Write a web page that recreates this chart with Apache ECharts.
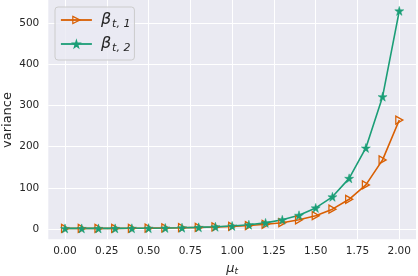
<!DOCTYPE html>
<html><head><meta charset="utf-8">
<script src="https://cdn.jsdelivr.net/npm/echarts@6/dist/echarts.min.js"></script>
<style>html,body{margin:0;padding:0;background:#fff}#c{width:418px;height:276px}</style>
</head><body><div id="c"></div>
<script>
const mu = [0.0,0.1,0.2,0.3,0.4,0.5,0.6,0.7,0.8,0.9,1.0,1.1,1.2,1.3,1.4,1.5,1.6,1.7,1.8,1.9,2.0];
const beta1 = [1.0,1.0,1.1,1.2,1.4,1.7,2.1,2.7,3.5,4.5,6,8,11,15,22,32,48,72,107,168,265];
const beta2 = [1.0,1.0,1.0,1.1,1.3,1.6,2.0,2.7,3.6,5,7,10,14.5,22,33,51,78,123,197,322,531];
const xTicks = [0,0.25,0.5,0.75,1.0,1.25,1.5,1.75,2.0];
const yTicks = [0,100,200,300,400,500];
const seriesNames = ['b1','b2'];
const yTitle = 'variance';

const star = 'path://M50,0 L61,35 L98,35 L68,57 L79,91 L50,70 L21,91 L32,57 L2,35 L39,35 Z';
const tri = 'path://M0,0 L10,5 L0,10 Z';
const txt = '#262626';
const font = 'DejaVu Sans';
const chart = echarts.init(document.getElementById('c'), null, {renderer:'canvas'});
chart.setOption({
  animation:false,
  backgroundColor:'#ffffff',
  grid:{left:48.3, right:2, top:0, bottom:36.7, show:true, backgroundColor:'#eaeaf2', borderWidth:0,
    containLabel:false, outerBoundsMode:'none'},
  graphic:[{type:'text', x:8, y:120, rotation:Math.PI/2,
    style:{text:yTitle, font:'13px "DejaVu Sans"', fill:txt, align:'center', verticalAlign:'middle'}}],
  legend:{
    orient:'vertical', left:55, top:7,
    padding:[5,4,6,5], itemGap:6, itemWidth:31, itemHeight:9,
    backgroundColor:'rgba(234,234,242,0.8)', borderColor:'#cccccc', borderWidth:1, borderRadius:3,
    itemStyle:{borderWidth:1.2}, lineStyle:{width:1.8},
    data:seriesNames,
    formatter:function(n){ return n==='b1' ? '{b|β}{s|t, 1}' : '{b|β}{s|t, 2}'; },
    textStyle:{color:txt, padding:[0,0,0,4],
      rich:{
        b:{fontFamily:font, fontStyle:'italic', fontSize:16, color:txt},
        s:{fontFamily:font, fontStyle:'italic', fontSize:11, color:txt, verticalAlign:'bottom', padding:[9,0,0,1]}
      }}
  },
  xAxis:{type:'value', min:-0.1, max:2.1,
    name:'{m|μ}{s|t}', nameLocation:'middle', nameGap:21,
    nameTextStyle:{rich:{m:{fontFamily:font, fontStyle:'italic', fontSize:13, color:txt},
      s:{fontFamily:font, fontStyle:'italic', fontSize:9, color:txt, verticalAlign:'bottom', padding:[7,0,0,0]}}},
    axisLine:{show:false}, axisTick:{show:false, customValues:xTicks},
    axisLabel:{customValues:xTicks, color:txt, fontFamily:font, fontSize:10.5, margin:6,
      formatter:v=>v.toFixed(2)},
    splitLine:{show:true, lineStyle:{color:'#ffffff', width:1}}
  },
  yAxis:{type:'value', min:-25.5, max:557.5,
    axisLine:{show:false}, axisTick:{show:false, customValues:yTicks},
    axisLabel:{customValues:yTicks, color:txt, fontFamily:font, fontSize:10.5, margin:9},
    splitLine:{show:true, lineStyle:{color:'#ffffff', width:1}}
  },
  series:[
    {name:'b1', type:'line', data:mu.map((x,i)=>[x,beta1[i]]),
      symbol:tri, symbolSize:[7,8], showAllSymbol:true,
      lineStyle:{color:'#d95f02', width:1.6},
      itemStyle:{color:'rgba(234,234,242,0)', borderColor:'#d95f02', borderWidth:1.3}},
    {name:'b2', type:'line', data:mu.map((x,i)=>[x,beta2[i]]),
      symbol:star, symbolSize:9, showAllSymbol:true,
      lineStyle:{color:'#1b9e77', width:1.6},
      itemStyle:{color:'#1b9e77', borderColor:'#1b9e77', borderWidth:0.5}}
  ]
});
</script></body></html>
